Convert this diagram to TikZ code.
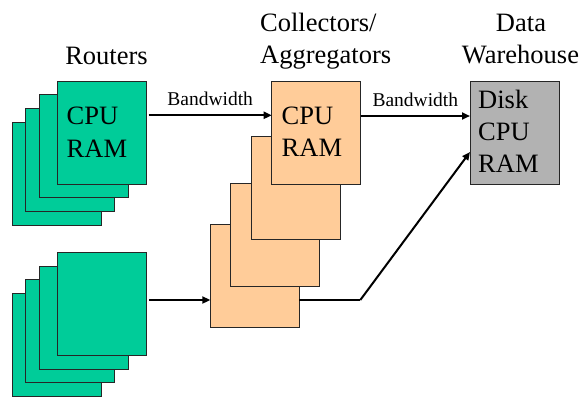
\documentclass[tikz,border=0pt]{standalone}
\usepackage{fontspec}
\setmainfont{Liberation Serif}
\usetikzlibrary{arrows.meta,calc}
\definecolor{rgreen}{HTML}{00CC99}
\definecolor{corange}{HTML}{FFCC99}
\definecolor{wgray}{HTML}{B2B2B2}
\tikzset{
  box/.style={draw=black!85, line width=1pt, minimum width=89pt, minimum height=103pt, inner sep=0pt, outer sep=0pt, anchor=north west},
  router/.style={box, fill=rgreen},
  coll/.style={box, fill=corange},
  wh/.style={box, fill=wgray},
  big/.style={font=\fontsize{26.5}{31}\selectfont, inner sep=0pt, anchor=base west},
  title/.style={font=\fontsize{26.5}{31}\selectfont, inner sep=0pt, anchor=base},
  small/.style={font=\fontsize{19.5}{22}\selectfont, inner sep=0pt, anchor=base},
  arr/.style={line width=2pt, -{Triangle[length=8pt,width=7pt]}},
  link/.style={line width=2pt}
}
\begin{document}
\begin{tikzpicture}[x=1pt,y=-1pt]
\useasboundingbox (0,0) rectangle (584,399);
% titles
\node[title] (tRouters) at (106.5,64) {Routers};
\node[big] (tColl) at (260,31.7) {Collectors/};
\node[big] (tAgg) at (260,63.3) {Aggregators};
\node[title] (tData) at (521,31.7) {Data};
\node[title] (tWare) at (520.5,63.3) {Warehouse};
% top router stack
\node[router] (r1d) at (12,122) {};
\node[router] (r1c) at (25.5,108.3) {};
\node[router] (r1b) at (39,94.3) {};
\node[router] (r1) at (57,81) {};
\node[big] (r1cpu) at (66.5,124) {CPU};
\node[big] (r1ram) at (66.5,157) {RAM};
% bottom router stack
\node[router] (r2d) at (12,293) {};
\node[router] (r2c) at (25.5,279) {};
\node[router] (r2b) at (39,266) {};
\node[router] (r2) at (57,252) {};
% collectors
\node[coll] (c4) at (210.3,224.7) {};
\node[coll] (c3) at (230.7,183.3) {};
\node[coll] (c2) at (251,136) {};
\node[coll] (c1) at (271.7,81) {};
\node[big] (c1cpu) at (281.5,124) {CPU};
\node[big] (c1ram) at (281.5,156.7) {RAM};
% warehouse
\node[wh] (w) at (470,81) {};
\node[big] (wdisk) at (478,108.3) {Disk};
\node[big] (wcpu) at (478,140) {CPU};
\node[big] (wram) at (478,172.5) {RAM};
% connectors
\draw[arr] ([shift={(2.7,34.3)}]r1.north east) -- ([shift={(0,34.3)}]c1.north west)
  node[small, midway, yshift=10pt] (bw1) {Bandwidth};
\draw[arr] ([shift={(0,35)}]c1.north east) -- ([shift={(0,35)}]w.north west)
  node[small, midway, yshift=9.5pt] (bw2) {Bandwidth};
\draw[arr] ([shift={(3,48)}]r2.north east) -- ([shift={(0,75.3)}]c4.north west);
\coordinate (bend) at ($(c4.north east)+(61,75.3)$);
\draw[link] ([shift={(0,75.3)}]c4.north east) -- (bend);
\draw[arr] (bend) -- ([shift={(0,71)}]w.north west);
\end{tikzpicture}
\end{document}
